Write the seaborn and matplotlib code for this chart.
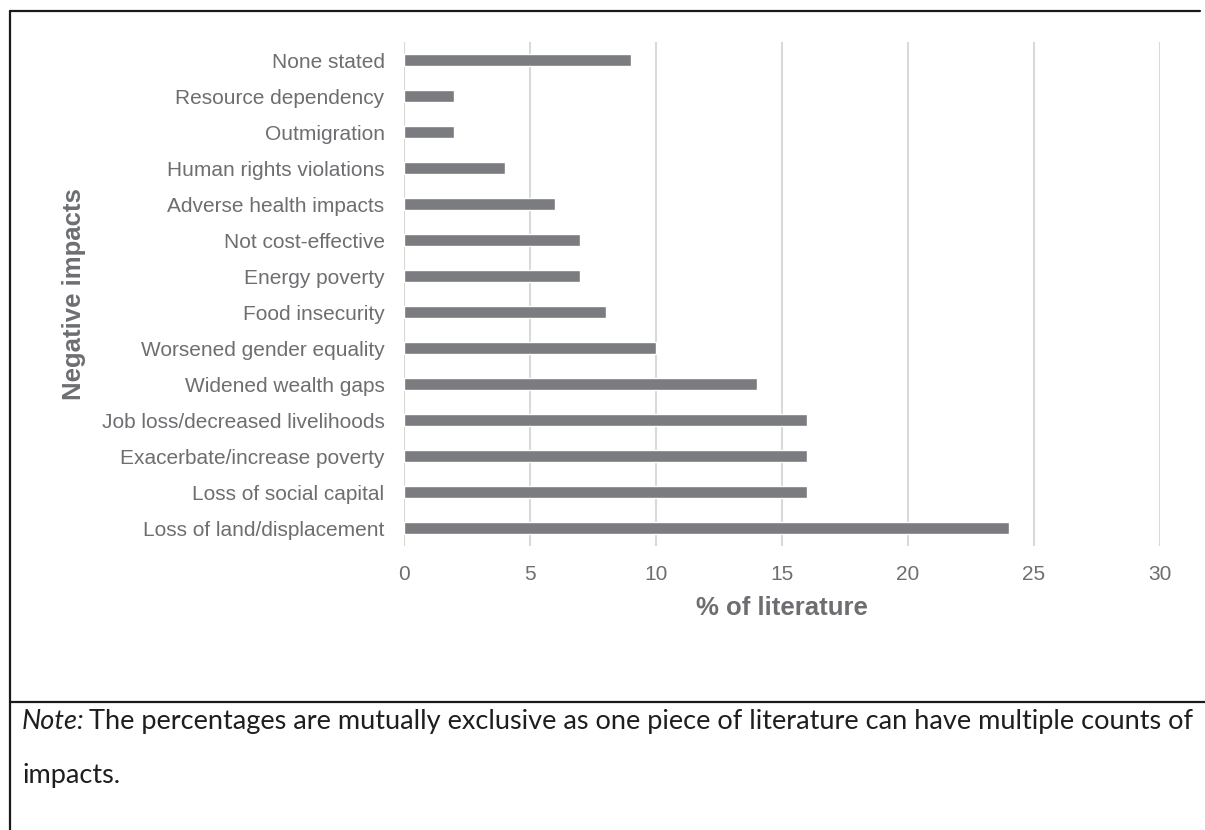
import numpy as np
import pandas as pd
import seaborn as sns
import matplotlib.pyplot as plt
from matplotlib.lines import Line2D

# data
impacts = ['None stated', 'Resource dependency', 'Outmigration', 'Human rights violations',
           'Adverse health impacts', 'Not cost-effective', 'Energy poverty', 'Food insecurity',
           'Worsened gender equality', 'Widened wealth gaps', 'Job loss/decreased livelihoods',
           'Exacerbate/increase poverty', 'Loss of social capital', 'Loss of land/displacement']
pct_literature = [9, 2, 2, 4, 6, 7, 7, 8, 10, 14, 16, 16, 16, 24]
x_ticks = [0, 5, 10, 15, 20, 25, 30]

df = pd.DataFrame({'impact': impacts, 'pct': pct_literature})

sns.set_style('white')
plt.rcParams['font.family'] = ['Liberation Sans', 'DejaVu Sans']

txt_grey = '#6d6e71'
bar_grey = '#7b7c80'

fig = plt.figure(figsize=(12.05, 8.3), dpi=100)
ax = fig.add_axes([404 / 1205, 1 - 546 / 830, (1160 - 404) / 1205, (546 - 42) / 830])

sns.barplot(data=df, x='pct', y='impact', orient='h', color=bar_grey,
            width=0.33, saturation=1, ax=ax, zorder=3)

ax.set_xlim(0, 30)
ax.set_xticks(x_ticks)
ax.set_ylim(len(impacts) - 0.5, -0.5)
ax.grid(axis='x', color='#d9d9d9', linewidth=1.5, zorder=0)
ax.grid(axis='y', visible=False)
for s in ax.spines.values():
    s.set_visible(False)

ax.tick_params(axis='y', length=0, pad=14, labelsize=15, labelcolor=txt_grey)
ax.tick_params(axis='x', length=0, pad=14, labelsize=15, labelcolor=txt_grey)

ax.set_xlabel('% of literature', fontsize=18.5, fontweight='bold', color=txt_grey, labelpad=8)
ax.set_ylabel('Negative impacts', fontsize=18.5, fontweight='bold', color=txt_grey)
ax.yaxis.set_label_coords((86 - 404) / (1160 - 404), 0.5)

# page frame of the table cell
fig.add_artist(Line2D([10 / 1205, 1200 / 1205], [1 - 11 / 830, 1 - 11 / 830],
                      color='#1a1a1a', linewidth=1.6, transform=fig.transFigure))
fig.add_artist(Line2D([10 / 1205, 10 / 1205], [1 - 11 / 830, 0],
                      color='#1a1a1a', linewidth=1.6, transform=fig.transFigure))
fig.add_artist(Line2D([10 / 1205, 1], [1 - 702 / 830, 1 - 702 / 830],
                      color='#1a1a1a', linewidth=1.6, transform=fig.transFigure))

note_font = ['Lato', 'DejaVu Sans']
note_size = 19.5
fig.text(22 / 1205, 1 - 729 / 830, 'Note:', fontsize=note_size, style='italic',
         family=note_font, color='#1e1e1e', va='baseline')
fig.text(89 / 1205, 1 - 729 / 830,
         'The percentages are mutually exclusive as one piece of literature can have multiple counts of',
         fontsize=note_size, family=note_font, color='#1e1e1e', va='baseline')
fig.text(22 / 1205, 1 - 783 / 830, 'impacts.', fontsize=note_size, family=note_font,
         color='#1e1e1e', va='baseline')

fig.savefig('out.png', dpi=100)
plt.close()
